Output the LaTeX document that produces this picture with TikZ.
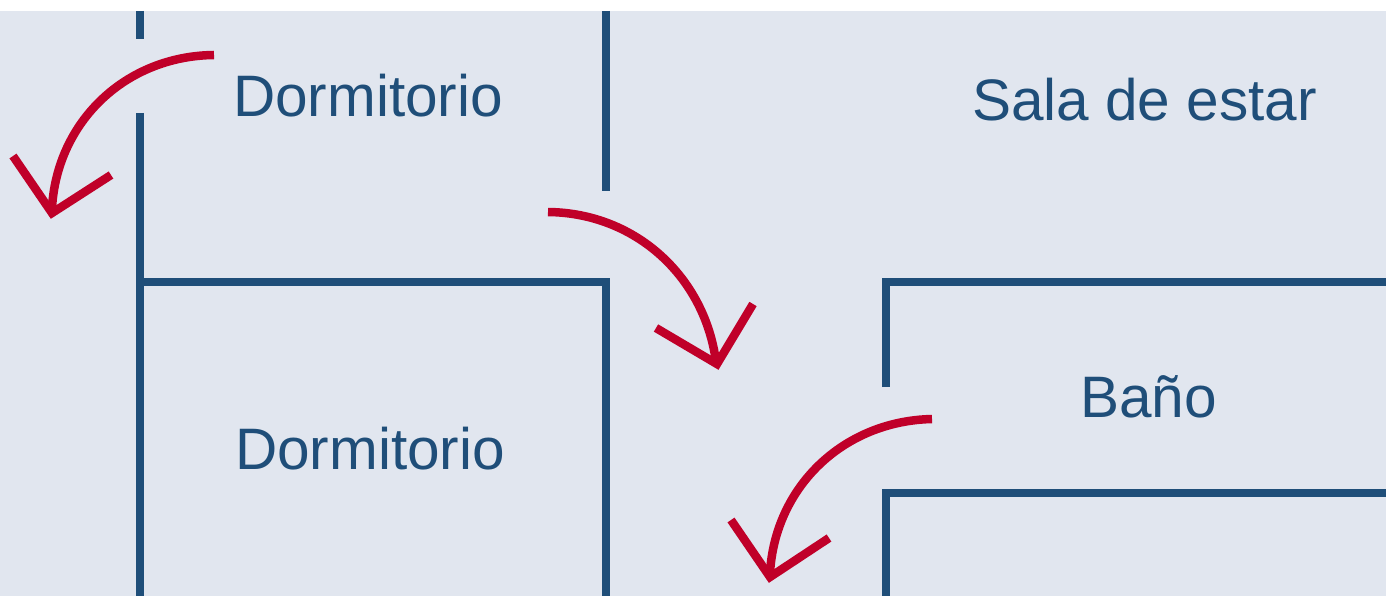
\documentclass[tikz,border=0pt]{standalone}
\usepackage{fontspec}
\setmainfont{Liberation Sans}
\definecolor{wallblue}{HTML}{1F4E79}
\definecolor{planbg}{HTML}{E1E6EF}
\definecolor{doorred}{HTML}{C00029}
\tikzset{
  wall/.style={draw=wallblue,line width=8pt,miter limit=10},
  door/.style={draw=doorred,line width=8.5pt},
  room/.style={text=wallblue,font=\fontsize{58.5}{60}\selectfont,inner sep=0pt,anchor=center}
}
\begin{document}
\begin{tikzpicture}[x=1pt,y=-1pt]
\useasboundingbox (0,0) rectangle (1386,596);
\fill[planbg] (0,11) rectangle (1386,596);
\draw[wall] (140.3,11) -- (140.3,39);
\draw[wall] (140.3,113) -- (140.3,596);
\draw[wall] (606,11) -- (606,191);
\draw[wall] (140.3,282) -- (606,282) -- (606,596);
\draw[wall] (886.4,387) -- (886.4,282) -- (1386,282);
\draw[wall] (886.4,596) -- (886.4,493) -- (1386,493);
\node[room] (d1) at (368,95.5) {Dormitorio};
\node[room] (d2) at (370,448.5) {Dormitorio};
\node[room] (sala) at (1144.5,99.5) {Sala de estar};
\node[room] (bano) at (1148.3,396.5) {Baño};
\draw[door] (214,55) .. controls (125,56) and (57,122) .. (52,208);
\draw[door,miter limit=10] (13,156) -- (52,213) -- (111,175);
\draw[door] (548,212) .. controls (637,213) and (705,278) .. (716,362);
\draw[door,miter limit=10] (656,328) -- (717,364) -- (753,304);
\draw[door] (932,419) .. controls (843,421) and (775,487) .. (770,573);
\draw[door,miter limit=10] (731,520) -- (770,577) -- (829,538);
\end{tikzpicture}
\end{document}
